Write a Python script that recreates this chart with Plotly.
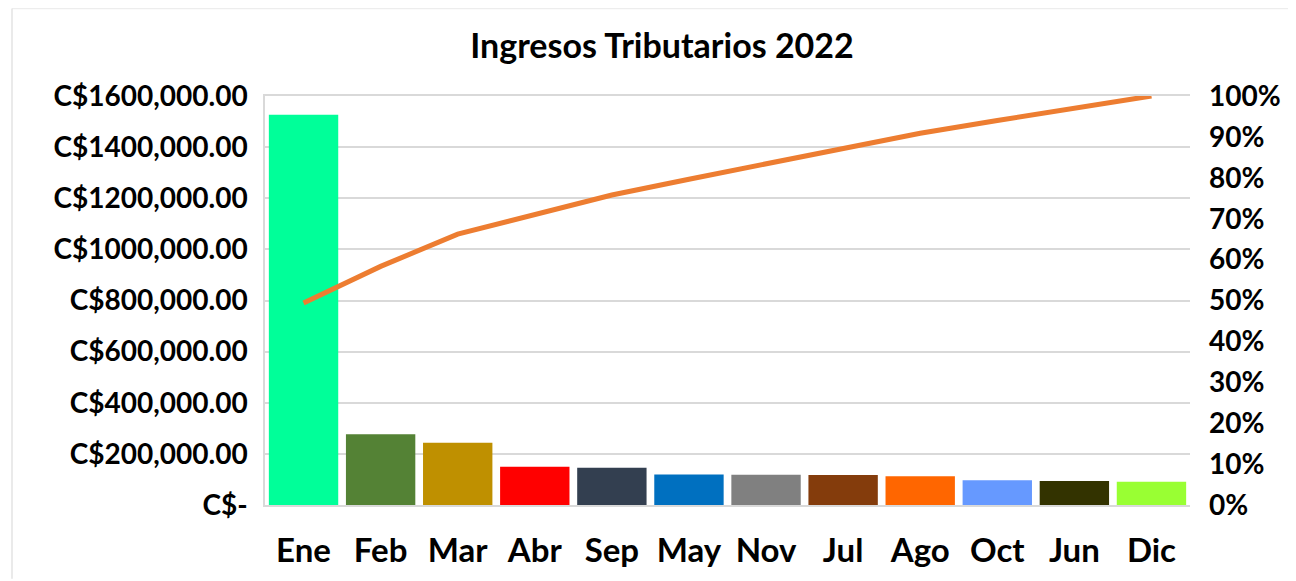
import numpy as np
import plotly.graph_objects as go

months = ["Ene", "Feb", "Mar", "Abr", "Sep", "May", "Nov", "Jul", "Ago", "Oct", "Jun", "Dic"]
ingresos = [1527000, 277000, 243500, 149800, 146000, 119800, 118600, 117000, 112000, 96400, 93600, 91300]
bar_colors = ["#00FF99", "#548235", "#BF9000", "#FF0000", "#333F50", "#0070C0",
              "#808080", "#843C0C", "#FF6600", "#6699FF", "#333300", "#99FF33"]
left_tickvals = [0, 200000, 400000, 600000, 800000, 1000000, 1200000, 1400000, 1600000]
left_ticktext = ["C$-", "C$200,000.00", "C$400,000.00", "C$600,000.00", "C$800,000.00",
                 "C$1000,000.00", "C$1200,000.00", "C$1400,000.00", "C$1600,000.00"]

cum_pct = np.cumsum(ingresos) / np.sum(ingresos)

# page body has an 8px margin, so the figure starts at (8, 8)
OFF = 8
W, H = 1296 - OFF, 581 - OFF
L, R, T, B = 265 - OFF, 1190 - OFF, 96 - OFF, 507 - OFF

FONT = "Lato, Carlito, Calibri, sans-serif"

fig = go.Figure()
fig.add_trace(go.Bar(x=months, y=ingresos, marker=dict(color=bar_colors, line=dict(width=0)),
                     showlegend=False, hoverinfo="x+y"))
fig.add_trace(go.Scatter(x=months, y=cum_pct, yaxis="y2", mode="lines",
                         line=dict(color="#ED7D31", width=5), showlegend=False))

def px_x(p):
    return (p - OFF - L) / (R - L)

def px_y(p):
    return (B - (p - OFF)) / (B - T)

fig.update_layout(
    width=W, height=H,
    margin=dict(l=L, r=W - R, t=T, b=H - B, pad=0),
    paper_bgcolor="white", plot_bgcolor="white",
    bargap=0.1,
    font=dict(family=FONT, size=28, color="#000000", weight=700),
    title=dict(text="Ingresos Tributarios 2022", x=(662 - OFF) / W, xanchor="center",
               y=1 - (46 - OFF) / H, yanchor="middle",
               font=dict(family=FONT, size=34, color="#000000", weight=700)),
    xaxis=dict(showgrid=False, showline=True, linecolor="#D9D9D9", linewidth=1.5,
               mirror=True, ticks="", ticklabelstandoff=16,
               tickfont=dict(family=FONT, size=33, weight=700)),
    yaxis=dict(range=[0, 1600000], tickvals=left_tickvals, ticktext=left_ticktext,
               showgrid=True, gridcolor="#D9D9D9", gridwidth=1.5, zeroline=False,
               showline=True, linecolor="#D9D9D9", linewidth=1.5,
               ticklabelstandoff=10, tickfont=dict(family=FONT, size=28, weight=700)),
    yaxis2=dict(range=[0, 1], overlaying="y", side="right", tickformat=".0%",
                dtick=0.1, tick0=0, showgrid=False, zeroline=False, showline=False,
                ticklabelstandoff=18, tickfont=dict(family=FONT, size=28, weight=700)),
)

# faint outer chart border
fig.add_shape(type="line", xref="paper", yref="paper",
              x0=px_x(12), x1=px_x(1296), y0=px_y(8), y1=px_y(8),
              line=dict(color="#EDEDED", width=1.5))
fig.add_shape(type="line", xref="paper", yref="paper",
              x0=px_x(12), x1=px_x(12), y0=px_y(8), y1=px_y(581),
              line=dict(color="#E3E3E3", width=1.5))

fig.write_html("out.html")
